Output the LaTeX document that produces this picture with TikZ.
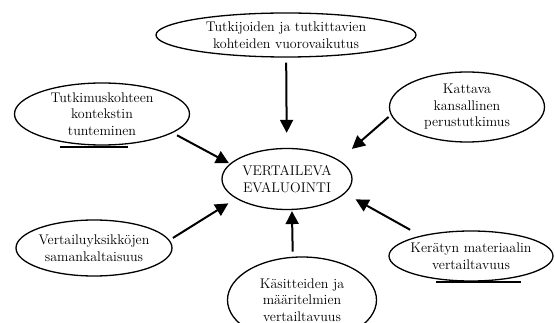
\documentclass[tikz,border=0pt]{standalone}
\usepackage{fontspec}
\usetikzlibrary{arrows.meta,shapes,positioning}

\begin{document}
\begin{tikzpicture}[x=1pt,y=-1pt,
    bubble/.style={draw,ellipse,line width=1.3pt,align=center,
        inner xsep=-12pt,inner ysep=-6pt,font=\fontsize{14}{16.5}\selectfont},
    arr/.style={line width=2pt,-{Triangle[length=13pt,width=13pt]}},
    uline/.style={line width=1.8pt}]
    \useasboundingbox (0,0) rectangle (555,323);

    % centre ellipse
    \node[bubble,minimum width=130pt,minimum height=61pt] (eval) at (287,179) {VERTAILEVA\\EVALUOINTI};

    % the six ellipses round it
    \node[bubble,minimum width=260pt,minimum height=44pt] (vuoro) at (286,35) {Tutkijoiden ja tutkittavien\\kohteiden vuorovaikutus};
    \node[bubble,minimum width=175pt,minimum height=62pt] (konteksti) at (102,114) {Tutkimuskohteen\\kontekstin\\tunteminen};
    \node[bubble,minimum width=155pt,minimum height=70pt] (perus) at (467,107) {Kattava\\kansallinen\\perustutkimus};
    \node[bubble,minimum width=156pt,minimum height=56pt] (yksikko) at (94,248) {Vertailuyksikköjen\\samankaltaisuus};
    \node[bubble,minimum width=149pt,minimum height=86pt] (kasite) at (302,300) {Käsitteiden ja\\määritelmien\\vertailtavuus};
    \node[bubble,minimum width=164pt,minimum height=50pt] (materiaali) at (471,256) {Kerätyn materiaalin\\vertailtavuus};

    % underlines
    \draw[uline] ([xshift=-42pt,yshift=-1pt]konteksti.south) -- ([xshift=26pt,yshift=-1pt]konteksti.south);
    \draw[uline] ([xshift=-35pt]materiaali.south) -- ([xshift=50pt]materiaali.south);

    % arrows into the centre
    \draw[arr,shorten <=5pt,shorten >=15pt] (vuoro) -- (eval);
    \draw[arr,shorten <=5pt,shorten >=1pt] (konteksti.-15) -- (eval.165);
    \draw[arr,shorten <=3pt,shorten >=17pt] (perus.186) -- (eval.20);
    \draw[arr,shorten <=4pt,shorten >=9pt] (yksikko.6) -- (eval.201);
    \draw[arr,shorten <=5pt,shorten >=1pt] (kasite.102) -- (eval.-81);
    \draw[arr,shorten <=12pt,shorten >=12pt] (materiaali.158) -- (eval.-14);
\end{tikzpicture}
\end{document}
